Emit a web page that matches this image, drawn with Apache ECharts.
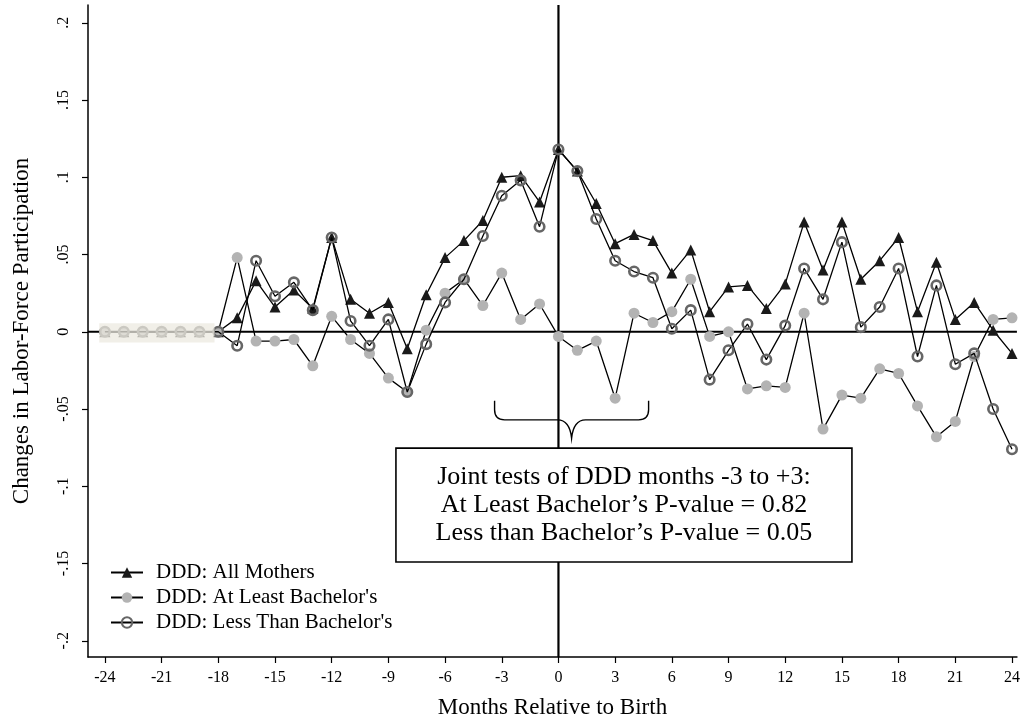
<!DOCTYPE html>
<html><head><meta charset="utf-8">
<script src="https://cdn.jsdelivr.net/npm/echarts@6/dist/echarts.min.js"></script>
<style>html,body{margin:0;padding:0;background:#fff}#c{width:1023px;height:725px}</style>
</head><body><div id="c"></div>
<script>
const months = [-24,-23,-22,-21,-20,-19,-18,-17,-16,-15,-14,-13,-12,-11,-10,-9,-8,-7,-6,-5,-4,-3,-2,-1,0,1,2,3,4,5,6,7,8,9,10,11,12,13,14,15,16,17,18,19,20,21,22,23,24];
const allMothers = [0,0,0,0,0,0,0,0.009,0.033,0.016,0.027,0.015,0.061,0.021,0.012,0.019,-0.011,0.024,0.048,0.059,0.072,0.100,0.101,0.084,0.118,0.104,0.083,0.057,0.063,0.059,0.038,0.053,0.013,0.029,0.030,0.015,0.031,0.071,0.040,0.071,0.034,0.046,0.061,0.013,0.045,0.008,0.019,0.001,-0.014];
const atLeastBachelors = [0,0,0,0,0,0,0,0.048,-0.006,-0.006,-0.005,-0.022,0.010,-0.005,-0.014,-0.030,-0.039,0.001,0.025,0.034,0.017,0.038,0.008,0.018,-0.003,-0.012,-0.006,-0.043,0.012,0.006,0.013,0.034,-0.003,0.000,-0.037,-0.035,-0.036,0.012,-0.063,-0.041,-0.043,-0.024,-0.027,-0.048,-0.068,-0.058,-0.016,0.008,0.009];
const lessThanBachelors = [0,0,0,0,0,0,0,-0.009,0.046,0.023,0.032,0.014,0.061,0.007,-0.009,0.008,-0.039,-0.008,0.019,0.034,0.062,0.088,0.098,0.068,0.118,0.104,0.073,0.046,0.039,0.035,0.002,0.014,-0.031,-0.012,0.005,-0.018,0.004,0.041,0.021,0.058,0.003,0.016,0.041,-0.016,0.030,-0.021,-0.014,-0.050,-0.076];
const xTicks = [-24,-21,-18,-15,-12,-9,-6,-3,0,3,6,9,12,15,18,21,24];
const yTicks = [-0.2,-0.15,-0.1,-0.05,0,0.05,0.1,0.15,0.2];
const seriesNames = ['DDD: All Mothers', "DDD: At Least Bachelor's", "DDD: Less Than Bachelor's"];
const noteLines = ['Joint tests of DDD months -3 to +3:', 'At Least Bachelor\u2019s P-value = 0.82', 'Less than Bachelor\u2019s P-value = 0.05'];
const xTitle = 'Months Relative to Birth';
const yTitle = 'Changes in Labor-Force Participation';

const FONT = '"Liberation Serif", "Times New Roman", serif';
const X_MIN = -24.895, X_MAX = 24.26, Y_MIN = -0.2105, Y_MAX = 0.2115;

function pair(arr){ return months.map((m,i)=>[m, arr[i]]); }
function fmtY(v){
  if (Math.abs(v) < 1e-9) return '0';
  return String(+v.toFixed(2)).replace(/^(-?)0\./, '$1.');
}

const chart = echarts.init(document.getElementById('c'), null, {renderer:'canvas'});
chart.setOption({
  animation:false,
  backgroundColor:'#fff',
  grid:{left:88, right:1, top:5, bottom:68, containLabel:false},
  xAxis:{type:'value', min:X_MIN, max:X_MAX,
    axisLine:{show:true, onZero:false, lineStyle:{color:'#000', width:1.5}},
    axisTick:{show:true, customValues:xTicks, length:6, lineStyle:{color:'#000', width:1.2}},
    axisLabel:{customValues:xTicks, color:'#000', fontFamily:FONT, fontSize:16, margin:13},
    splitLine:{show:false},
    name:xTitle, nameLocation:'middle', nameGap:39,
    nameTextStyle:{color:'#000', fontFamily:FONT, fontSize:23}},
  yAxis:{type:'value', min:Y_MIN, max:Y_MAX,
    axisLine:{show:true, onZero:false, lineStyle:{color:'#000', width:1.5}},
    axisTick:{show:true, customValues:yTicks, length:6, lineStyle:{color:'#000', width:1.2}},
    axisLabel:{customValues:yTicks, color:'#000', fontFamily:FONT, fontSize:16, margin:16, rotate:90, formatter:fmtY},
    splitLine:{show:false},
    name:yTitle, nameLocation:'middle', nameGap:55, nameRotate:90,
    nameTextStyle:{color:'#000', fontFamily:FONT, fontSize:23}},
  legend:{orient:'vertical', left:105, top:557, itemGap:4, itemWidth:32, itemHeight:13,
    data:seriesNames, selectedMode:false,
    textStyle:{color:'#000', fontFamily:FONT, fontSize:21, padding:[0,0,0,8]}},
  series:[
    {type:'custom', name:'reflines', silent:true, z:1, clip:false,
     data:[[X_MIN,0,X_MAX,0],[0,Y_MIN,0,Y_MAX]], encode:{x:[0,2], y:[1,3]},
     renderItem:(p, api)=>{
       const a = api.coord([api.value(0), api.value(1)]);
       const b = api.coord([api.value(2), api.value(3)]);
       return {type:'line', shape:{x1:a[0], y1:a[1], x2:b[0], y2:b[1]}, style:{stroke:'#000', lineWidth:2.2}};
     }},
    {name:seriesNames[0], type:'line', data:pair(allMothers), z:3,
     symbol:'triangle', symbolSize:11, showAllSymbol:true,
     lineStyle:{color:'#000', width:1.3}, itemStyle:{color:'#1a1a1a'}},
    {name:seriesNames[1], type:'line', data:pair(atLeastBachelors), z:4,
     symbol:'circle', symbolSize:11, showAllSymbol:true,
     lineStyle:{color:'#000', width:1.3}, itemStyle:{color:'#b3b3b3'}},
    {name:seriesNames[2], type:'line', data:pair(lessThanBachelors), z:5,
     symbol:'circle', symbolSize:9.5, showAllSymbol:true,
     lineStyle:{color:'#000', width:1.3}, itemStyle:{color:'rgba(0,0,0,0)', borderColor:'#666', borderWidth:2.6}},
    {type:'custom', name:'band', silent:true, z:10, clip:false,
     data:[[-24.3,-18.2,0.0055,-0.007]], encode:{x:[0,1], y:[2,3]},
     renderItem:(p, api)=>{
       const a = api.coord([api.value(0), api.value(2)]);
       const b = api.coord([api.value(1), api.value(3)]);
       return {type:'rect', shape:{x:a[0], y:a[1], width:b[0]-a[0], height:b[1]-a[1]}, style:{fill:'rgba(236,233,224,0.75)'}};
     }},
    {type:'custom', name:'brace', silent:true, z:15, clip:false,
     data:[[-3.38,4.77,-0.0447,-0.057,-0.0688]], encode:{x:[0,1], y:[2,4]},
     renderItem:(p, api)=>{
       const L = api.coord([api.value(0), api.value(2)]);
       const R = api.coord([api.value(1), api.value(2)]);
       const hy = api.coord([0, api.value(3)])[1];
       const tip = api.coord([(api.value(0)+api.value(1))/2, api.value(4)]);
       const r = 10, cx = tip[0];
       const d = `M${L[0]},${L[1]} L${L[0]},${hy-r} Q${L[0]},${hy} ${L[0]+r},${hy} L${cx-14},${hy} Q${cx-2},${hy} ${cx},${tip[1]} Q${cx+2},${hy} ${cx+14},${hy} L${R[0]-r},${hy} Q${R[0]},${hy} ${R[0]},${hy-r} L${R[0]},${R[1]}`;
       return {type:'path', shape:{pathData:d}, style:{fill:'none', stroke:'#000', lineWidth:1.4}};
     }},
    {type:'custom', name:'note', silent:true, z:20, clip:false,
     data:[[-8.6,15.53,-0.0753,-0.149]], encode:{x:[0,1], y:[2,3]},
     renderItem:(p, api)=>{
       const a = api.coord([api.value(0), api.value(2)]);
       const b = api.coord([api.value(1), api.value(3)]);
       return {type:'group', children:[
         {type:'rect', shape:{x:a[0], y:a[1], width:b[0]-a[0], height:b[1]-a[1]}, style:{fill:'#fff', stroke:'#000', lineWidth:1.6}},
         {type:'text', x:(a[0]+b[0])/2, y:(a[1]+b[1])/2, style:{text:noteLines.join('\n'), fill:'#000', fontFamily:FONT, fontSize:26, lineHeight:28, align:'center', verticalAlign:'middle'}}
       ]};
     }}
  ]
});
</script>
</body></html>
